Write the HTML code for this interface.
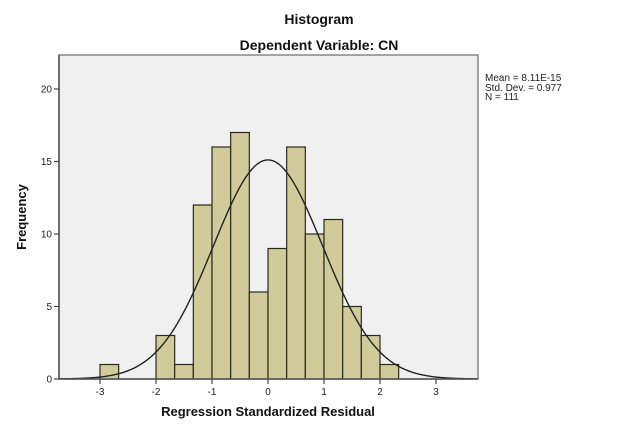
<!DOCTYPE html>
<html><head><meta charset="utf-8"><style>
html,body{margin:0;padding:0;background:#fff;}
svg{display:block;font-family:"Liberation Sans",Arial,sans-serif;}
</style></head><body>
<svg id="s" width="639" height="431" viewBox="0 0 639 431">
<text x="319" y="24" text-anchor="middle" font-size="14" font-weight="bold" fill="#111">Histogram</text>
<text x="319" y="50" text-anchor="middle" font-size="14" font-weight="bold" fill="#111">Dependent Variable: CN</text>
<rect x="59" y="55" width="419" height="324" fill="#f0f0f0" stroke="#888" stroke-width="1.5"/>
<g id="bars" fill="#d1cb9b" stroke="#2a2a1a" stroke-width="1.2"></g>
<path id="curve" fill="none" stroke="#222" stroke-width="1.4"/>
<line x1="59" y1="379" x2="478" y2="379" stroke="#555" stroke-width="1.5"/>
<line x1="59" y1="55" x2="59" y2="379" stroke="#555" stroke-width="1.5"/>
<g id="ticks" stroke="#444" stroke-width="1.2"></g>
<g font-size="10" fill="#222" id="labels"></g>
<text x="268" y="416" text-anchor="middle" font-size="13" font-weight="bold" fill="#111">Regression Standardized Residual</text>
<text transform="translate(26,217) rotate(-90)" text-anchor="middle" font-size="13" font-weight="bold" fill="#111">Frequency</text>
<g font-size="10" fill="#222">
<text x="485" y="81">Mean = 8.11E-15</text>
<text x="485" y="91">Std. Dev. = 0.977</text>
<text x="485" y="100">N = 111</text>
</g>
</svg>
<script>
var ns="http://www.w3.org/2000/svg";
function X(v){return 268+56*v;}
function Y(c){return 379-14.5*c;}
var counts=[1,0,0,3,1,12,16,17,6,9,16,10,11,5,3,1];
var b=document.getElementById('bars');
for(var i=0;i<counts.length;i++){
 if(!counts[i])continue;
 var x0=X(-3+i/3),x1=X(-3+(i+1)/3);
 var r=document.createElementNS(ns,'rect');
 r.setAttribute('x',x0);r.setAttribute('width',x1-x0);
 r.setAttribute('y',Y(counts[i]));r.setAttribute('height',14.5*counts[i]);
 b.appendChild(r);
}
var d="";
for(var px=60;px<=477;px+=1){
 var v=(px-268)/56;var sd=0.977;
 var f=111/3/(sd*Math.sqrt(2*Math.PI))*Math.exp(-v*v/(2*sd*sd));
 d+=(px==60?"M":"L")+px+","+Y(f).toFixed(2);
}
document.getElementById('curve').setAttribute('d',d);
var t=document.getElementById('ticks'),l=document.getElementById('labels');
for(var k=-3;k<=3;k++){
 var ln=document.createElementNS(ns,'line');
 ln.setAttribute('x1',X(k));ln.setAttribute('x2',X(k));ln.setAttribute('y1',379);ln.setAttribute('y2',384);t.appendChild(ln);
 var tx=document.createElementNS(ns,'text');tx.setAttribute('x',X(k));tx.setAttribute('y',395);tx.setAttribute('text-anchor','middle');tx.textContent=k;l.appendChild(tx);
}
for(var c=0;c<=20;c+=5){
 var ln=document.createElementNS(ns,'line');
 ln.setAttribute('x1',54);ln.setAttribute('x2',59);ln.setAttribute('y1',Y(c));ln.setAttribute('y2',Y(c));t.appendChild(ln);
 var tx=document.createElementNS(ns,'text');tx.setAttribute('x',52);tx.setAttribute('y',Y(c)+3.5);tx.setAttribute('text-anchor','end');tx.textContent=c;l.appendChild(tx);
}
</script>
</body></html>
